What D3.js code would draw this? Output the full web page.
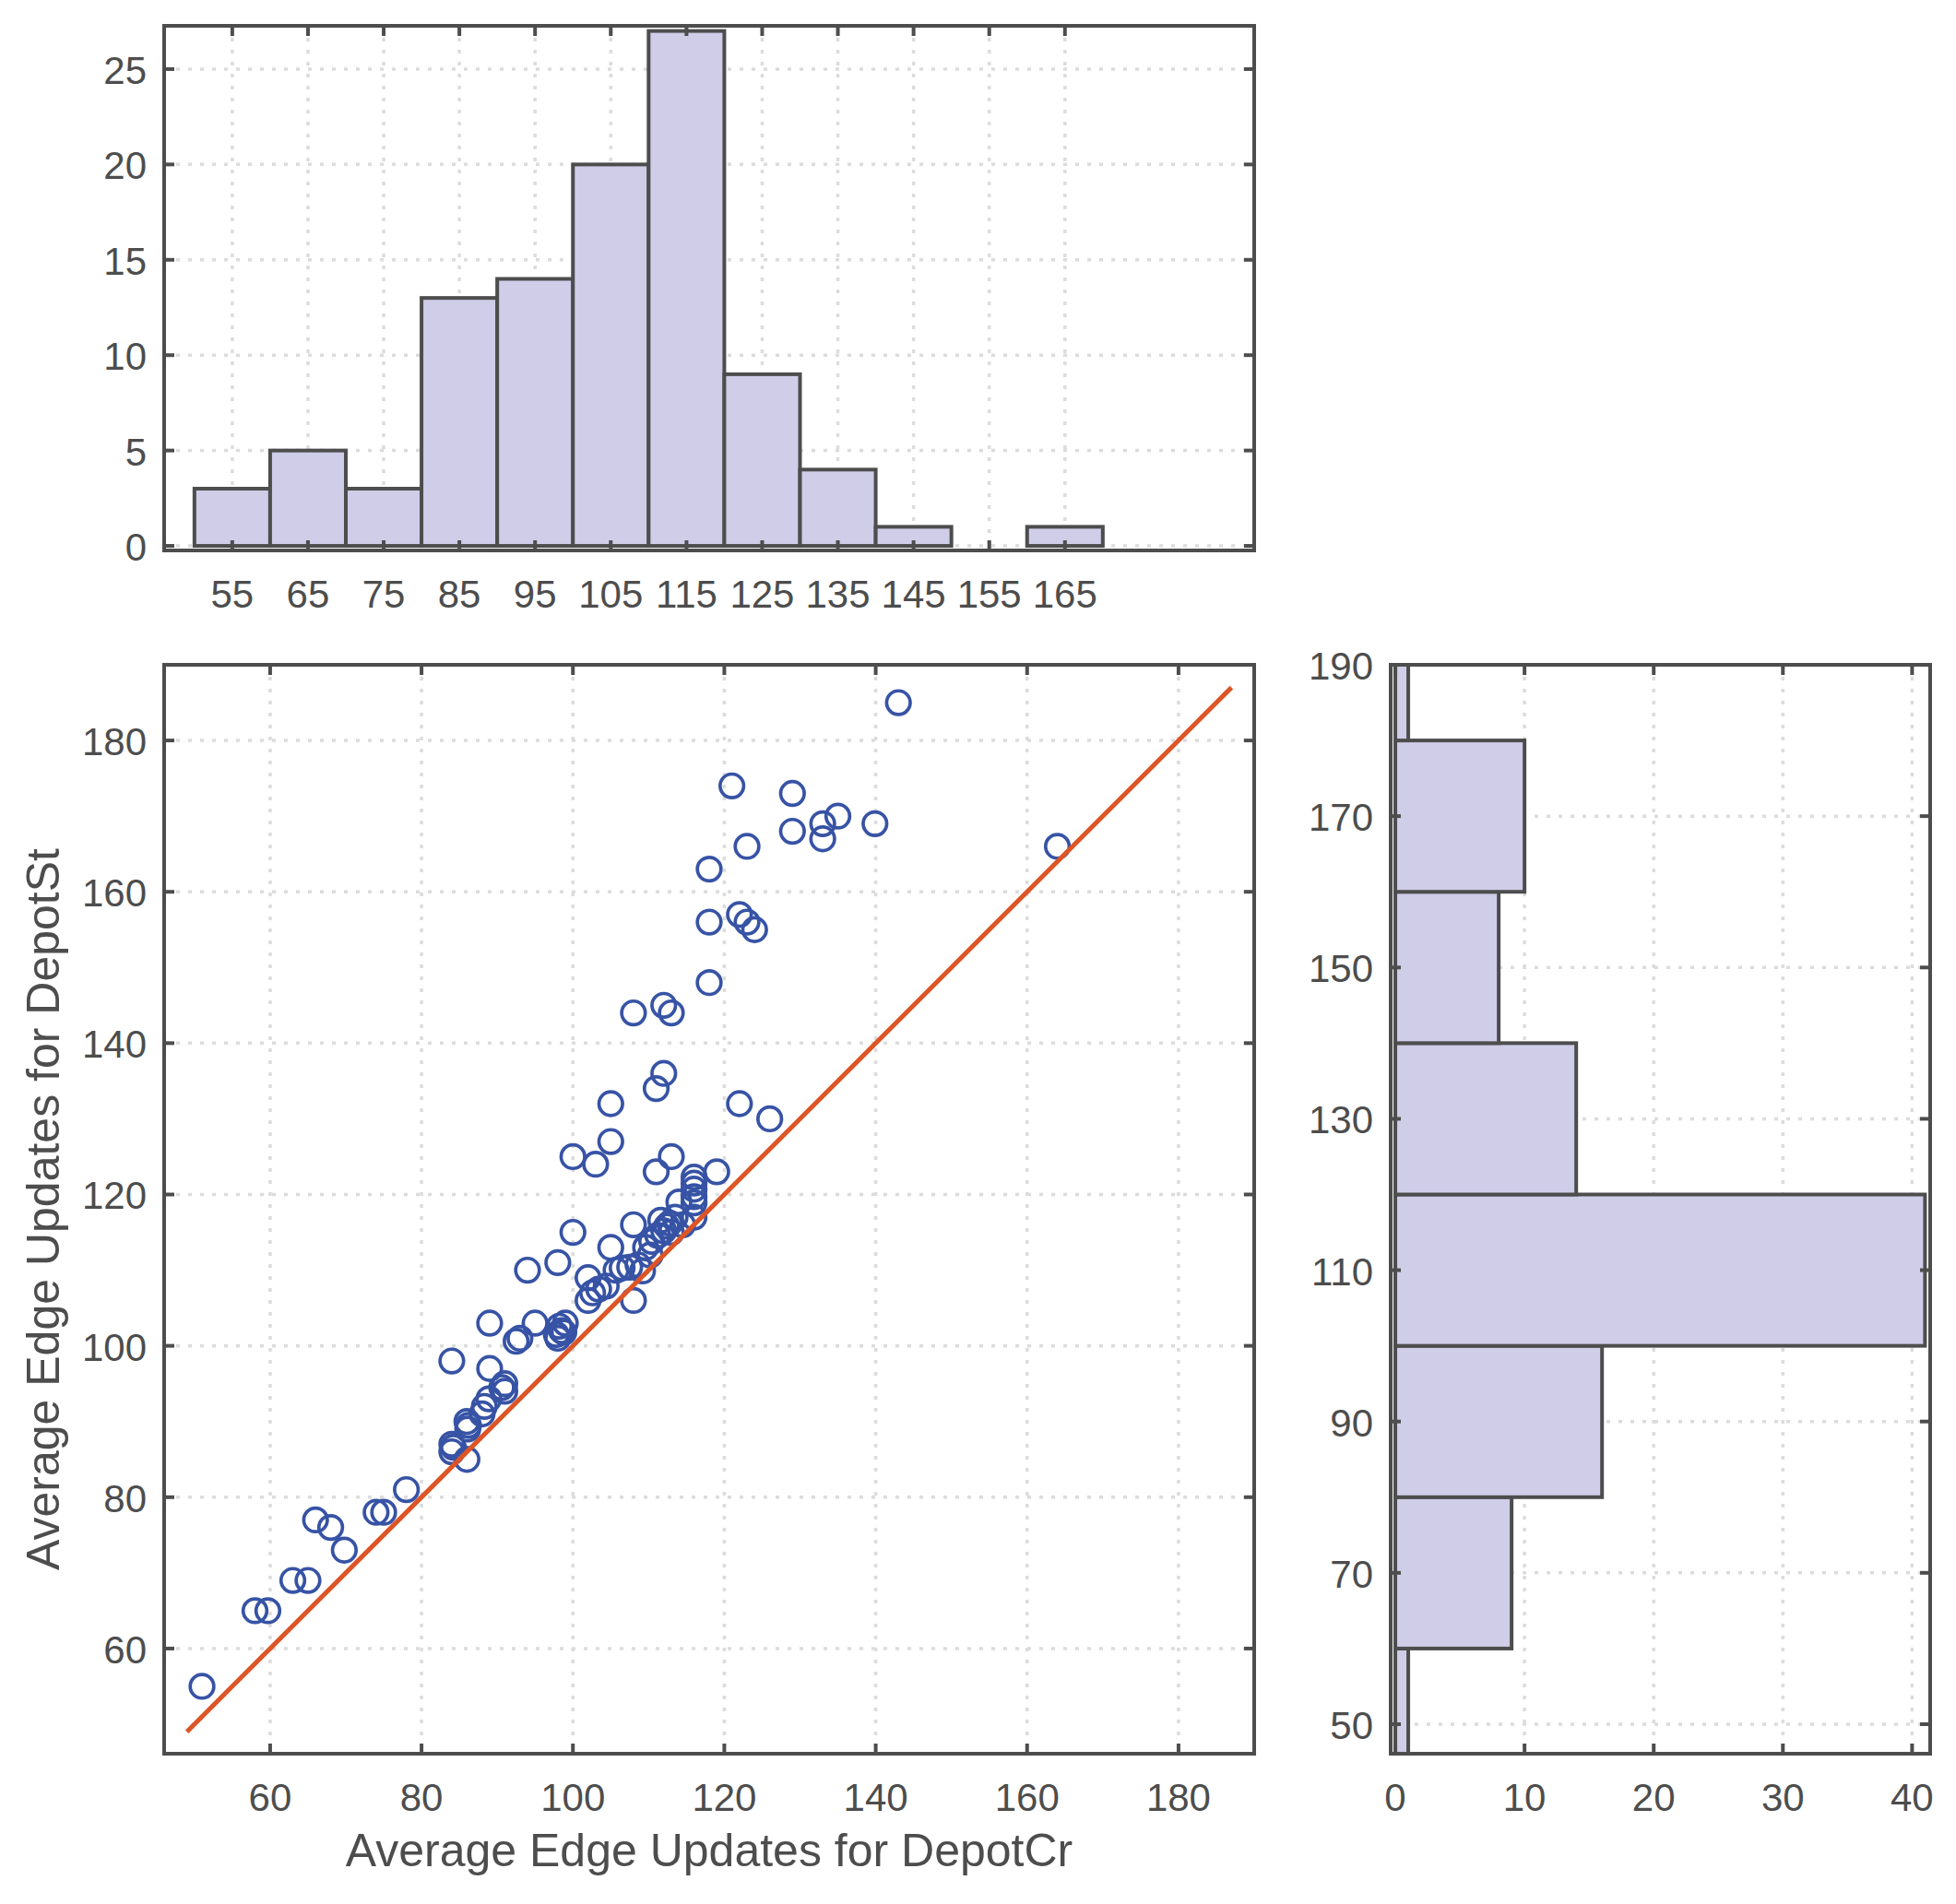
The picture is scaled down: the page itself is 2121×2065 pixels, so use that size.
<!DOCTYPE html>
<html>
<head>
<meta charset="utf-8">
<script src="https://cdn.jsdelivr.net/npm/d3@7"></script>
<style>
  body { margin: 0; background: #fff; }
  text { font-family: "Liberation Sans", Arial, Helvetica, sans-serif; fill: #4d4d4d; }
</style>
</head>
<body>
<div id="chart"></div>
<script>
// scatter points: average edge updates, DepotCr (x) vs DepotSt (y)
const depotCr = [
  51, 58, 59.7,
  63, 65, 66, 68, 69.8,
  74, 75, 78,
  84, 84, 84.2, 84, 86, 86, 86.2, 86.1, 88, 88.3, 88.9, 89, 89,
  90.6, 91, 91, 92.5, 93, 94, 95, 97.8, 98, 98, 98.5, 98.2, 99, 98.8,
  100, 100, 102, 102, 103, 102.6, 103.4, 104.4, 105, 105, 105, 105.7, 106.5, 107.5, 108, 108, 108, 108.6, 109.2, 109.6,
  110.2, 110.4, 111.2, 111.6, 112, 112.4, 112.8, 113, 113.5, 114, 114.5, 111, 111, 112, 112, 113, 113,
  116, 116, 116, 116, 116, 116, 118, 118, 118, 119,
  121, 122, 122, 123, 123, 124, 126, 129, 129,
  133, 133, 135, 139.9,
  143, 164
];
const depotSt = [
  55, 65, 65,
  69, 69, 77, 76, 73,
  78, 78, 81,
  98, 87, 86.6, 86, 85, 90, 89.5, 89, 91, 92, 93, 97, 103,
  94.5, 95, 94, 100.6, 101, 110, 103, 101.5, 111, 101, 102, 102.6, 103, 101.8,
  115, 125, 109, 106, 124, 107, 107.5, 107.9, 127, 132, 113, 110, 110.3, 110.4, 144, 116, 106, 110.7, 109.9, 113,
  112, 113.8, 114.6, 116.6, 115.2, 115.8, 116.2, 115, 117, 119, 116, 134, 123, 136, 145, 144, 125,
  122.3, 121.5, 120.7, 119.7, 118.9, 117, 148, 156, 163, 123,
  174, 157, 132, 156, 166, 155, 130, 173, 168,
  169, 167, 170, 169,
  185, 166
];

// histogram of DepotCr
const crEdges = [50, 60, 70, 80, 90, 100, 110, 120, 130, 140, 150, 160, 170];
const crCounts = [3, 5, 3, 13, 14, 20, 27, 9, 4, 1, 0, 1];
// histogram of DepotSt
const stEdges = [40, 60, 80, 100, 120, 140, 160, 180, 200];
const stCounts = [1, 9, 16, 41, 14, 8, 10, 1];

// reference line y = x
const refLine = [49, 187];

// ticks
const crHistTicks = [55, 65, 75, 85, 95, 105, 115, 125, 135, 145, 155, 165];
const countTicksTop = [0, 5, 10, 15, 20, 25];
const scatterTicks = [60, 80, 100, 120, 140, 160, 180];
const stHistTicks = [50, 70, 90, 110, 130, 150, 170, 190];
const countTicksSide = [0, 10, 20, 30, 40];

const W = 2121, H = 2065;
const axisColor = "#4d4d4d";
const barFill = "#cfcde8";
const dotColor = "#3753a5";
const lineColor = "#dd5526";

const boxTop = {x0: 178, x1: 1360, y0: 28, y1: 597};
const boxMain = {x0: 178, x1: 1360, y0: 721, y1: 1902};
const boxSide = {x0: 1508, x1: 2093, y0: 721, y1: 1902};

const svg = d3.select("#chart").append("svg")
    .attr("width", W)
    .attr("height", H);

// scales
const xVal = d3.scaleLinear().domain([46, 190]).range([boxMain.x0, boxMain.x1]);
const yVal = d3.scaleLinear().domain([46.1, 190]).range([boxMain.y1, boxMain.y0]);
const yTopCount = d3.scaleLinear().domain([-0.24, 27.27]).range([boxTop.y1, boxTop.y0]);
const xSideCount = d3.scaleLinear().domain([-0.36, 41.4]).range([boxSide.x0, boxSide.x1]);

let clipId = 0;
function clipFor(box) {
    const id = "clip" + (clipId++);
    svg.append("clipPath").attr("id", id)
        .append("rect")
        .attr("x", box.x0).attr("y", box.y0)
        .attr("width", box.x1 - box.x0).attr("height", box.y1 - box.y0);
    return "url(#" + id + ")";
}

function grid(box, x, y, xTicks, yTicks) {
    const g = svg.append("g")
        .attr("stroke", "#dcdcdc")
        .attr("stroke-width", 3.5)
        .attr("stroke-dasharray", "4,9");
    g.selectAll(".gx").data(xTicks).join("line")
        .attr("x1", d => x(d)).attr("x2", d => x(d))
        .attr("y1", box.y0).attr("y2", box.y1);
    g.selectAll(".gy").data(yTicks).join("line")
        .attr("y1", d => y(d)).attr("y2", d => y(d))
        .attr("x1", box.x0).attr("x2", box.x1);
}

// box with inward ticks on all four sides, plus tick labels left and bottom
function frame(box, x, y, xTicks, yTicks) {
    const g = svg.append("g");
    const tl = 11;
    const t = g.append("g").attr("stroke", axisColor).attr("stroke-width", 4);
    xTicks.forEach(d => {
        t.append("line").attr("x1", x(d)).attr("x2", x(d)).attr("y1", box.y1).attr("y2", box.y1 - tl);
        t.append("line").attr("x1", x(d)).attr("x2", x(d)).attr("y1", box.y0).attr("y2", box.y0 + tl);
    });
    yTicks.forEach(d => {
        t.append("line").attr("y1", y(d)).attr("y2", y(d)).attr("x1", box.x0).attr("x2", box.x0 + tl);
        t.append("line").attr("y1", y(d)).attr("y2", y(d)).attr("x1", box.x1).attr("x2", box.x1 - tl);
    });
    g.append("rect")
        .attr("x", box.x0).attr("y", box.y0)
        .attr("width", box.x1 - box.x0).attr("height", box.y1 - box.y0)
        .attr("fill", "none")
        .attr("stroke", axisColor)
        .attr("stroke-width", 4);

    g.selectAll(".xl").data(xTicks).join("text")
        .attr("x", d => x(d))
        .attr("y", box.y1 + 62)
        .attr("text-anchor", "middle")
        .style("font-size", "42px")
        .text(d => d);
    g.selectAll(".yl").data(yTicks).join("text")
        .attr("x", box.x0 - 19)
        .attr("y", d => y(d) + 16)
        .attr("text-anchor", "end")
        .style("font-size", "42px")
        .text(d => d);
}

// ---- top histogram (DepotCr)
grid(boxTop, xVal, yTopCount, crHistTicks, countTicksTop);
svg.append("g")
    .attr("clip-path", clipFor(boxTop))
    .selectAll("rect")
    .data(crCounts)
    .join("rect")
    .attr("x", (d, i) => xVal(crEdges[i]))
    .attr("width", (d, i) => xVal(crEdges[i + 1]) - xVal(crEdges[i]))
    .attr("y", d => yTopCount(d))
    .attr("height", d => yTopCount(0) - yTopCount(d))
    .attr("fill", barFill)
    .attr("stroke", axisColor)
    .attr("stroke-width", 4);
frame(boxTop, xVal, yTopCount, crHistTicks, countTicksTop);

// ---- scatter
grid(boxMain, xVal, yVal, scatterTicks, scatterTicks);
const main = svg.append("g").attr("clip-path", clipFor(boxMain));
main.selectAll("circle")
    .data(depotCr)
    .join("circle")
    .attr("cx", d => xVal(d))
    .attr("cy", (d, i) => yVal(depotSt[i]))
    .attr("r", 12.8)
    .attr("fill", "none")
    .attr("stroke", dotColor)
    .attr("stroke-width", 3.7);
main.append("line")
    .attr("x1", xVal(refLine[0])).attr("y1", yVal(refLine[0]))
    .attr("x2", xVal(refLine[1])).attr("y2", yVal(refLine[1]))
    .attr("stroke", lineColor)
    .attr("stroke-width", 5);
frame(boxMain, xVal, yVal, scatterTicks, scatterTicks);

// ---- side histogram (DepotSt)
grid(boxSide, xSideCount, yVal, countTicksSide, stHistTicks);
svg.append("g")
    .attr("clip-path", clipFor(boxSide))
    .selectAll("rect")
    .data(stCounts)
    .join("rect")
    .attr("x", xSideCount(0))
    .attr("width", d => xSideCount(d) - xSideCount(0))
    .attr("y", (d, i) => yVal(stEdges[i + 1]))
    .attr("height", (d, i) => yVal(stEdges[i]) - yVal(stEdges[i + 1]))
    .attr("fill", barFill)
    .attr("stroke", axisColor)
    .attr("stroke-width", 4);
frame(boxSide, xSideCount, yVal, countTicksSide, stHistTicks);

// axis titles
svg.append("text")
    .attr("x", (boxMain.x0 + boxMain.x1) / 2)
    .attr("y", 2024)
    .attr("text-anchor", "middle")
    .style("font-size", "50px")
    .text("Average Edge Updates for DepotCr");

svg.append("text")
    .attr("transform", "translate(64," + ((boxMain.y0 + boxMain.y1) / 2) + ") rotate(-90)")
    .attr("text-anchor", "middle")
    .style("font-size", "50px")
    .text("Average Edge Updates for DepotSt");
</script>
</body>
</html>
